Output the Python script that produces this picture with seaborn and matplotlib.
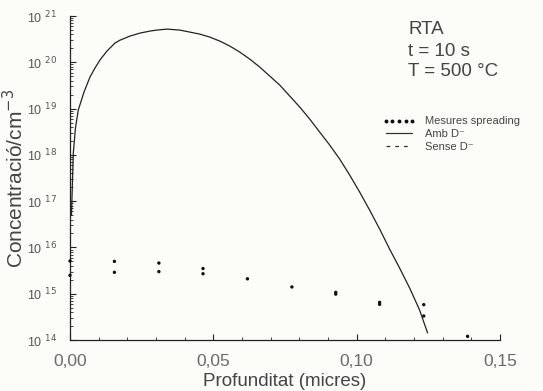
import numpy as np
import pandas as pd
import matplotlib
matplotlib.use("Agg")
import matplotlib.pyplot as plt
from matplotlib.ticker import LogLocator, FuncFormatter, MultipleLocator, NullFormatter
import seaborn as sns

# ---- data ----
curve_x = [0.00052, 0.0007, 0.00115, 0.0019, 0.00289, 0.00488, 0.00697, 0.00871,
           0.01045, 0.01289, 0.01568, 0.01742, 0.02091, 0.02439, 0.02787, 0.03031,
           0.0338, 0.03833, 0.04181, 0.0453, 0.04878, 0.05226, 0.05575, 0.05923,
           0.06272, 0.0662, 0.06969, 0.07317, 0.07666, 0.08014, 0.08362, 0.08711,
           0.09059, 0.09408, 0.09756, 0.10105, 0.10453, 0.10801, 0.1115, 0.11498,
           0.11847, 0.12195, 0.12474]
curve_y = [5.0e16, 1.23e17, 1.09e18, 3.8e18, 9.3e18, 2.27e19, 4.79e19, 7.5e19,
           1.12e20, 1.75e20, 2.6e20, 3.0e20, 3.68e20, 4.27e20, 4.72e20, 4.96e20,
           5.21e20, 4.96e20, 4.49e20, 4.06e20, 3.5e20, 2.87e20, 2.24e20, 1.66e20,
           1.17e20, 7.87e19, 5.03e19, 3.22e19, 1.86e19, 1.08e19, 5.93e18, 3.1e18,
           1.63e18, 8.1e17, 3.66e17, 1.57e17, 6.4e16, 2.5e16, 9.2e15, 3.59e15,
           1.33e15, 4.45e14, 1.42e14]

meas_x = [0.0, 0.0, 0.0155, 0.0155, 0.031, 0.031, 0.0464, 0.0464, 0.0619, 0.0774,
          0.0927, 0.0927, 0.108, 0.108, 0.1234, 0.1234, 0.1387]
meas_y = [5.1e15, 2.5e15, 5.0e15, 2.9e15, 4.6e15, 3.0e15, 3.5e15, 2.7e15, 2.1e15,
          1.4e15, 1.07e15, 9.8e14, 6.5e14, 5.9e14, 5.8e14, 3.3e14, 1.2e14]

x_ticks = [0.00, 0.05, 0.10, 0.15]
x_ticklabels = ["0,00", "0,05", "0,10", "0,15"]
legend_labels = ["Mesures spreading", "Amb D\u207b", "Sense D\u207b"]
annotation_lines = ["RTA", "t = 10 s", "T = 500 \u00b0C"]

sns.set_style("ticks")
plt.rcParams['font.family'] = ['Liberation Sans', 'DejaVu Sans']

bg = "#fcfcf8"
fig = plt.figure(figsize=(5.43, 3.91), dpi=100, facecolor=bg)
ax = fig.add_axes([70 / 543, 1 - 340 / 391, (500 - 70) / 543, (340 - 16) / 391])
ax.set_facecolor(bg)

curve_df = pd.DataFrame({"x": curve_x, "y": curve_y})
meas_df = pd.DataFrame({"x": meas_x, "y": meas_y})

sns.lineplot(data=curve_df, x="x", y="y", ax=ax, color="#222222", lw=0.9,
             sort=False, estimator=None)
sns.scatterplot(data=meas_df, x="x", y="y", ax=ax, color="#111111", s=6,
                marker="o", edgecolor="none", clip_on=False, zorder=5)

ax.set_yscale("log")
ax.set_xlim(0, 0.15)
ax.set_ylim(1e14, 1e21)

ax.set_xticks(x_ticks)
ax.set_xticklabels(x_ticklabels)
ax.xaxis.set_minor_locator(MultipleLocator(0.01))

ax.yaxis.set_major_locator(LogLocator(base=10, numticks=20))
ax.yaxis.set_minor_locator(LogLocator(base=10, subs=np.arange(2, 10), numticks=100))
ax.yaxis.set_minor_formatter(NullFormatter())
ax.yaxis.set_major_formatter(FuncFormatter(
    lambda v, p: r"$\mathregular{10}^{\;\,%d}$" % int(round(np.log10(v)))))

for s in ["top", "right"]:
    ax.spines[s].set_visible(False)
for s in ["left", "bottom"]:
    ax.spines[s].set_color("#222222")
    ax.spines[s].set_linewidth(0.9)

ax.tick_params(axis="both", which="major", direction="in", length=4, width=0.8,
               color="#222222")
ax.tick_params(axis="both", which="minor", direction="in", length=2, width=0.6,
               color="#222222")
ax.tick_params(axis="x", labelsize=12.5, labelcolor="#6a6a6a", pad=10)
ax.tick_params(axis="y", labelsize=9, labelcolor="#555555", pad=9)

ax.set_xlabel("Profunditat (micres)", fontsize=13.5, color="#444444", labelpad=3)
ax.set_ylabel("Concentraci\u00f3/cm$^{-3}$", fontsize=15, color="#444444", labelpad=0)

# legend
h_meas = ax.plot([], [], ls="none", marker="o", ms=1.8, color="#111111")[0]
h_amb = ax.plot([], [], ls="-", lw=0.9, color="#333333")[0]
h_sense = ax.plot([], [], ls=(0, (3, 4)), lw=0.9, color="#333333")[0]
leg = ax.legend([h_meas, h_amb, h_sense], legend_labels, loc="upper left",
                bbox_to_anchor=((378 - 70) / 430, 1 - (112 - 16) / 324),
                frameon=False, fontsize=8, numpoints=5, handlelength=3.0,
                handletextpad=0.8, labelspacing=0.25, borderaxespad=0)
for t in leg.get_texts():
    t.set_color("#444444")

# annotation
ys = [30, 51, 71]
for txt, yy in zip(annotation_lines, ys):
    fig.text(408 / 543, 1 - yy / 391, txt, fontsize=13.5, color="#444444",
             ha="left", va="center")

fig.savefig("out.png", dpi=100, facecolor=bg)
